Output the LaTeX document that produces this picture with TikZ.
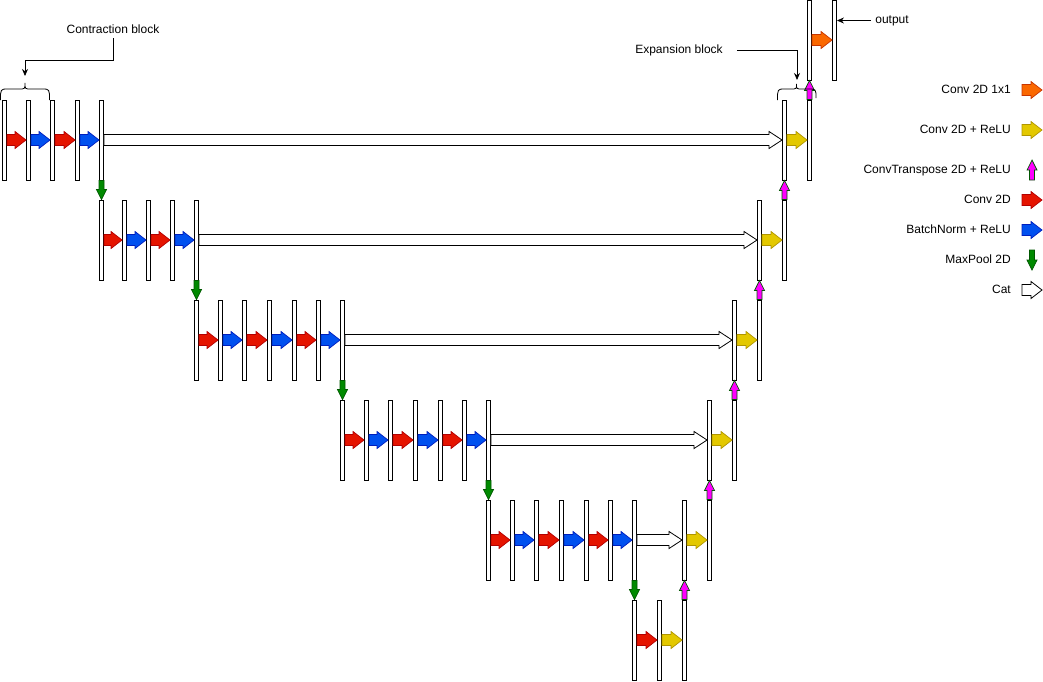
\documentclass[tikz,border=0pt]{standalone}
\usepackage{fontspec}
\setmainfont{Liberation Sans}
\usetikzlibrary{calc,arrows.meta}

\definecolor{convred}{HTML}{E51400}
\definecolor{convredline}{HTML}{B20000}
\definecolor{bnblue}{HTML}{0050EF}
\definecolor{bnblueline}{HTML}{001DBC}
\definecolor{poolgreen}{HTML}{008A00}
\definecolor{poolgreenline}{HTML}{005700}
\definecolor{reluyellow}{HTML}{E3C800}
\definecolor{reluyellowline}{HTML}{B09500}
\definecolor{outorange}{HTML}{FA6800}
\definecolor{outorangeline}{HTML}{C73500}
\definecolor{uppink}{HTML}{FF00FF}

% block arrow: style, from, to, body half width, head half width, head length
\newcommand{\blockarrow}[6]{%
  \coordinate (ba-h) at ($(#3)!#6!(#2)$);
  \path[#1] ($(#2)!#4!90:(#3)$) -- ($(ba-h)!#4!90:(#3)$) -- ($(ba-h)!#5!90:(#3)$) -- (#3)
    -- ($(ba-h)!#5!-90:(#3)$) -- ($(ba-h)!#4!-90:(#3)$) -- ($(#2)!#4!-90:(#3)$) -- cycle;}
\newcommand{\harr}[3]{\blockarrow{#1}{#2}{#3}{5.5pt}{8.5pt}{11pt}}
\newcommand{\catarr}[2]{\blockarrow{catarrow}{#1}{#2}{5.5pt}{8.5pt}{13pt}}
\newcommand{\varr}[3]{\blockarrow{#1}{#2}{#3}{2.5pt}{5pt}{10pt}}

\begin{document}
\begin{tikzpicture}[x=1pt,y=-1pt,
  layer/.style={draw, fill=white, line width=0.9pt, minimum width=4pt, minimum height=80pt, inner sep=0pt},
  lbl/.style={font=\fontsize{12}{14}\selectfont, inner sep=2pt, text height=8.6pt, text depth=2pt},
  connector/.style={-{Stealth[length=7pt,width=6pt]}, line width=0.8pt},
  conv/.style={fill=convred, draw=convredline, line width=0.7pt},
  bnorm/.style={fill=bnblue, draw=bnblueline, line width=0.7pt},
  pool/.style={fill=poolgreen, draw=poolgreenline, line width=0.7pt},
  convrelu/.style={fill=reluyellow, draw=reluyellowline, line width=0.7pt},
  conv1x1/.style={fill=outorange, draw=outorangeline, line width=0.7pt},
  upconv/.style={fill=uppink, draw=poolgreenline, line width=0.7pt},
  catarrow/.style={fill=white, draw=black, line width=0.8pt}]
\useasboundingbox (0,0) rectangle (1043,681);

% contraction path
\node[layer] (c1a) at (4.5,140) {}; \node[layer] (c1b) at (28.5,140) {}; \node[layer] (c1c) at (52.5,140) {};
\node[layer] (c1d) at (77.5,140) {}; \node[layer] (c1e) at (101.5,140) {};
\node[layer] (c2a) at (101.5,240) {}; \node[layer] (c2b) at (124.5,240) {}; \node[layer] (c2c) at (148.5,240) {};
\node[layer] (c2d) at (172.5,240) {}; \node[layer] (c2e) at (196.5,240) {};
\node[layer] (c3a) at (196.5,340) {}; \node[layer] (c3b) at (220.5,340) {}; \node[layer] (c3c) at (244.5,340) {};
\node[layer] (c3d) at (269.5,340) {}; \node[layer] (c3e) at (294.5,340) {}; \node[layer] (c3f) at (318.5,340) {};
\node[layer] (c3g) at (342.5,340) {};
\node[layer] (c4a) at (342.5,440) {}; \node[layer] (c4b) at (366.5,440) {}; \node[layer] (c4c) at (390.5,440) {};
\node[layer] (c4d) at (415.5,440) {}; \node[layer] (c4e) at (440.5,440) {}; \node[layer] (c4f) at (464.5,440) {};
\node[layer] (c4g) at (488.5,440) {};
\node[layer] (c5a) at (488.5,540) {}; \node[layer] (c5b) at (512.5,540) {}; \node[layer] (c5c) at (536.5,540) {};
\node[layer] (c5d) at (561.5,540) {}; \node[layer] (c5e) at (586.5,540) {}; \node[layer] (c5f) at (610.5,540) {};
\node[layer] (c5g) at (634.5,540) {};
% bottleneck
\node[layer] (b1) at (634.5,640) {}; \node[layer] (b2) at (659.5,640) {}; \node[layer] (b3) at (684.5,640) {};
% expansion path
\node[layer] (e5a) at (684.5,540) {}; \node[layer] (e5b) at (709.5,540) {};
\node[layer] (e4a) at (709.5,440) {}; \node[layer] (e4b) at (734.5,440) {};
\node[layer] (e3a) at (734.5,340) {}; \node[layer] (e3b) at (759.5,340) {};
\node[layer] (e2a) at (759.5,240) {}; \node[layer] (e2b) at (784.5,240) {};
\node[layer] (e1a) at (784.5,140) {}; \node[layer] (e1b) at (809.5,140) {};
\node[layer] (o1) at (809.5,40) {}; \node[layer] (o2) at (834.5,40) {};

% layer operations
\harr{conv}{c1a.east}{c1b.west} \harr{bnorm}{c1b.east}{c1c.west}
\harr{conv}{c1c.east}{c1d.west} \harr{bnorm}{c1d.east}{c1e.west}
\harr{conv}{c2a.east}{c2b.west} \harr{bnorm}{c2b.east}{c2c.west}
\harr{conv}{c2c.east}{c2d.west} \harr{bnorm}{c2d.east}{c2e.west}
\harr{conv}{c3a.east}{c3b.west} \harr{bnorm}{c3b.east}{c3c.west} \harr{conv}{c3c.east}{c3d.west}
\harr{bnorm}{c3d.east}{c3e.west} \harr{conv}{c3e.east}{c3f.west} \harr{bnorm}{c3f.east}{c3g.west}
\harr{conv}{c4a.east}{c4b.west} \harr{bnorm}{c4b.east}{c4c.west} \harr{conv}{c4c.east}{c4d.west}
\harr{bnorm}{c4d.east}{c4e.west} \harr{conv}{c4e.east}{c4f.west} \harr{bnorm}{c4f.east}{c4g.west}
\harr{conv}{c5a.east}{c5b.west} \harr{bnorm}{c5b.east}{c5c.west} \harr{conv}{c5c.east}{c5d.west}
\harr{bnorm}{c5d.east}{c5e.west} \harr{conv}{c5e.east}{c5f.west} \harr{bnorm}{c5f.east}{c5g.west}
\harr{conv}{b1.east}{b2.west} \harr{convrelu}{b2.east}{b3.west}
\harr{convrelu}{e5a.east}{e5b.west} \harr{convrelu}{e4a.east}{e4b.west}
\harr{convrelu}{e3a.east}{e3b.west} \harr{convrelu}{e2a.east}{e2b.west}
\harr{convrelu}{e1a.east}{e1b.west} \harr{conv1x1}{o1.east}{o2.west}

% max pooling
\varr{pool}{c1e.south}{c2a.north} \varr{pool}{c2e.south}{c3a.north}
\varr{pool}{c3g.south}{c4a.north} \varr{pool}{c4g.south}{c5a.north}
\varr{pool}{c5g.south}{b1.north}

% up convolutions
\varr{upconv}{b3.north}{e5a.south} \varr{upconv}{e5b.north}{e4a.south}
\varr{upconv}{e4b.north}{e3a.south} \varr{upconv}{e3b.north}{e2a.south}
\varr{upconv}{e2b.north}{e1a.south} \varr{upconv}{e1b.north}{o1.south}

% skip connections
\catarr{c1e.east}{e1a.west} \catarr{c2e.east}{e2a.west}
\catarr{c3g.east}{e3a.west} \catarr{c4g.east}{e4a.west}
\catarr{c5g.east}{e5a.west}

% braces and labels
\draw[line width=0.8pt] (0.5,100) .. controls (0.5,89) .. (8,89) -- (19,89) .. controls (25,89) .. (25,83)
  .. controls (25,89) .. (31,89) -- (42,89) .. controls (49.5,89) .. (49.5,100);
\draw[line width=0.8pt] (777.5,100) .. controls (777.5,89) .. (785,89) -- (791,89) .. controls (796.5,89) .. (796.5,84)
  .. controls (796.5,89) .. (802,89) -- (808,89) .. controls (816,89) .. (816,98);
\coordinate (ctip) at (25,76);
\coordinate (etip) at (797,80);
\node[lbl] (cblock) at (113,30.5) {Contraction block};
\node[lbl] (eblock) at (679,50.5) {Expansion block};
\node[lbl] (outlbl) at (892,20.5) {output};
\draw[connector] (cblock.south) |- (25,60) -- (ctip);
\draw[connector] ([xshift=12pt]eblock.east) -| (etip);
\draw[connector] ([xshift=-2pt]outlbl.west) -- (outlbl.west -| o2.east);

% legend
\node[lbl, anchor=east, inner sep=0pt] (lg1) at (1011,90.5) {Conv 2D 1x1};
\node[lbl, anchor=east, inner sep=0pt] (lg2) at (1011,130.5) {Conv 2D + ReLU};
\node[lbl, anchor=east, inner sep=0pt] (lg3) at (1011,170.5) {ConvTranspose 2D + ReLU};
\node[lbl, anchor=east, inner sep=0pt] (lg4) at (1011,200.5) {Conv 2D};
\node[lbl, anchor=east, inner sep=0pt] (lg5) at (1011,230.5) {BatchNorm + ReLU};
\node[lbl, anchor=east, inner sep=0pt] (lg6) at (1011,260.5) {MaxPool 2D};
\node[lbl, anchor=east, inner sep=0pt] (lg7) at (1011,290.5) {Cat};
\harr{conv1x1}{1022,90}{1042,90}
\harr{convrelu}{1022,130}{1042,130}
\varr{upconv}{1032,180}{1032,160}
\harr{conv}{1022,200}{1042,200}
\harr{bnorm}{1022,230}{1042,230}
\varr{pool}{1032,250}{1032,270}
\harr{catarrow}{1022,290}{1042,290}
\end{tikzpicture}
\end{document}
